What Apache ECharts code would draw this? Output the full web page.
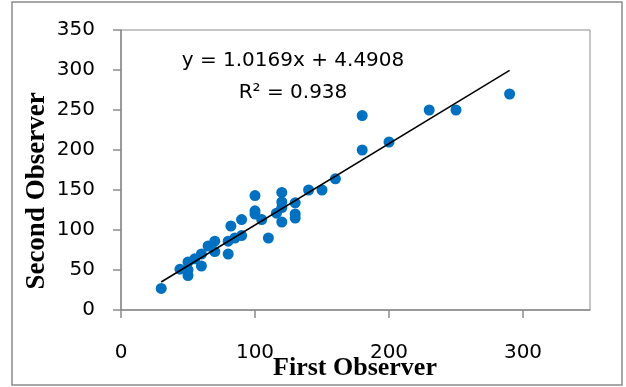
<!DOCTYPE html>
<html>
<head>
<meta charset="utf-8">
<script src="https://cdn.jsdelivr.net/npm/echarts@6/dist/echarts.min.js"></script>
<style>
  html, body { margin: 0; padding: 0; background: #fff; }
  #chart { width: 626px; height: 387px; }
</style>
</head>
<body>
<div id="chart"></div>
<script>
// readings
const firstObserver = [30, 44, 50, 50, 50, 55, 60, 60, 65, 70, 70, 80, 80, 82, 85, 90, 90,
  100, 100, 100, 105, 110, 116, 120, 120, 120, 120, 130, 130, 130, 140, 150, 160,
  180, 180, 200, 230, 250, 290];
const secondObserver = [27, 51, 60, 43, 50, 64, 70, 55, 80, 86, 73, 70, 86, 105, 90, 93, 113,
  143, 124, 120, 113, 90, 121, 147, 135, 128, 110, 134, 120, 115, 150, 150, 164,
  243, 200, 210, 250, 250, 270];
const trendX = [30, 290];
const trendY = [35, 299.4];
const xTicks = [0, 100, 200, 300];
const equation = 'y = 1.0169x + 4.4908';
const rSquared = 'R² = 0.938';

const gray = '#8c8c8c';
const labelFont = '"DejaVu Sans", Arial, sans-serif';
const titleFont = '"Liberation Serif", "Times New Roman", serif';

const chart = echarts.init(document.getElementById('chart'));

chart.setOption({
  animation: false,
  grid: {
    left: 121, right: 36, top: 30, bottom: 77,
    show: true, borderColor: gray, borderWidth: 1
  },
  xAxis: {
    type: 'value', min: 0, max: 350, interval: 100,
    axisLine: { show: true, onZero: false, lineStyle: { color: gray, width: 1.5 } },
    axisTick: { show: true, length: 8, customValues: xTicks, lineStyle: { color: gray, width: 1.5 } },
    axisLabel: { customValues: xTicks, margin: 33, color: '#000', fontSize: 20, fontFamily: labelFont },
    splitLine: { show: false }
  },
  yAxis: {
    type: 'value', min: 0, max: 350, interval: 50,
    axisLine: { show: true, onZero: false, lineStyle: { color: gray, width: 1.5 } },
    axisTick: { show: true, length: 8, lineStyle: { color: gray, width: 1.5 } },
    axisLabel: { margin: 26, color: '#000', fontSize: 20, fontFamily: labelFont },
    splitLine: { show: false }
  },
  series: [
    {
      type: 'scatter',
      symbolSize: 11,
      itemStyle: { color: '#0070c0', opacity: 1 },
      data: firstObserver.map((x, i) => [x, secondObserver[i]])
    },
    {
      type: 'line',
      showSymbol: false,
      lineStyle: { color: '#000', width: 1.5 },
      data: trendX.map((x, i) => [x, trendY[i]])
    }
  ],
  graphic: [
    {
      type: 'rect', silent: true,
      shape: { x: 12, y: 2, width: 610, height: 383 },
      style: { fill: 'none', stroke: gray, lineWidth: 1.5 }
    },
    {
      type: 'text', x: 293, y: 61,
      style: { text: equation, font: '20px ' + labelFont, fill: '#000', textAlign: 'center', textVerticalAlign: 'middle' }
    },
    {
      type: 'text', x: 293, y: 93,
      style: { text: rSquared, font: '20px ' + labelFont, fill: '#000', textAlign: 'center', textVerticalAlign: 'middle' }
    },
    {
      type: 'text', x: 355, y: 368,
      style: { text: 'First Observer', font: 'bold 26px ' + titleFont, fill: '#000', textAlign: 'center', textVerticalAlign: 'middle' }
    },
    {
      type: 'text', x: 37, y: 191, rotation: Math.PI / 2,
      style: { text: 'Second Observer', font: 'bold 27px ' + titleFont, fill: '#000', textAlign: 'center', textVerticalAlign: 'middle' }
    }
  ]
});
</script>
</body>
</html>
